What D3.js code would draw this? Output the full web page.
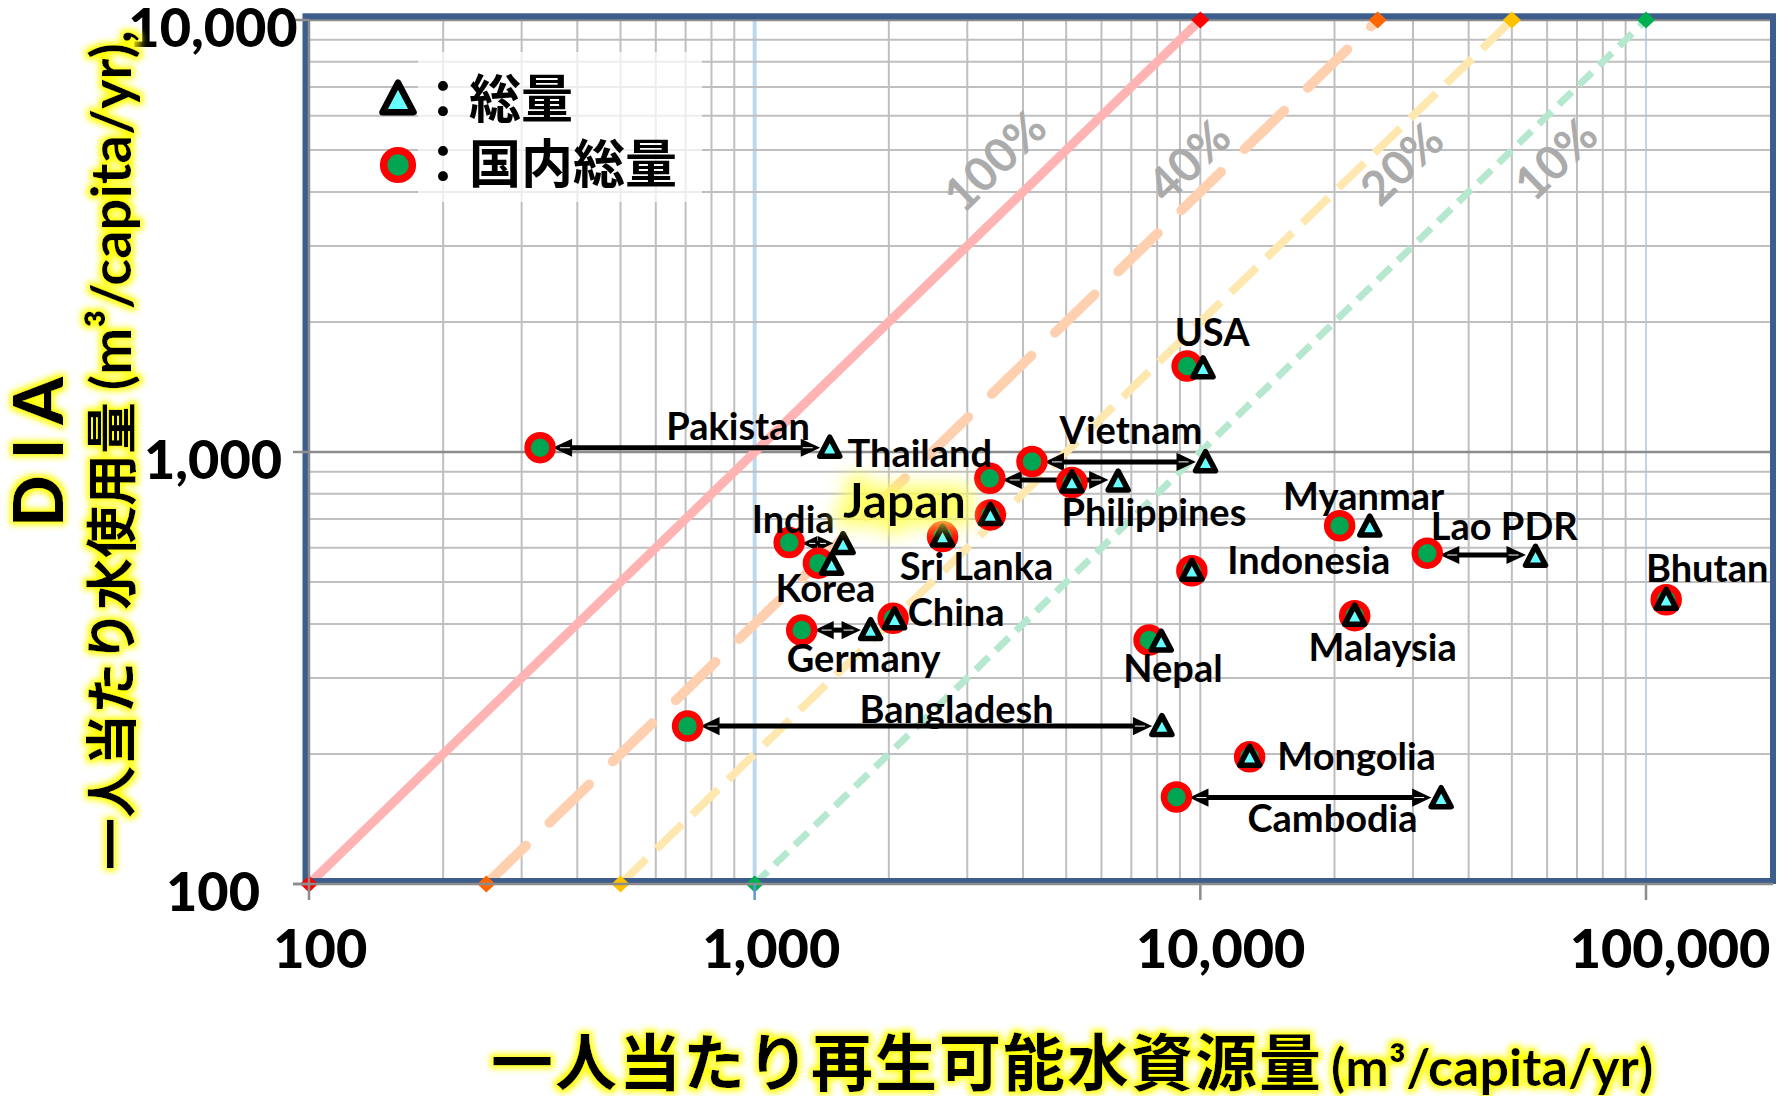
<!DOCTYPE html>
<html>
<head>
<meta charset="utf-8">
<script src="https://cdn.jsdelivr.net/npm/d3@7"></script>
<style>
  html, body { margin: 0; padding: 0; background: #ffffff; }
  svg { display: block; }
  .lat { font-family: "Lato", "Noto Sans CJK JP", sans-serif; font-weight: 700; }
  .heavy { font-family: "Lato", sans-serif; font-weight: 900; }
  .cjk { font-family: "Noto Sans CJK JP", "Lato", sans-serif; font-weight: 700; }
</style>
</head>
<body>
<svg id="chart" width="1792" height="1096"></svg>
<script>
// ---- data: per-capita renewable water resources (x) and water use (y), m3/capita/yr ----
const countries = ["Pakistan", "India", "Korea", "Germany", "Bangladesh", "Japan", "Sri Lanka",
  "China", "Thailand", "Philippines", "Vietnam", "USA", "Indonesia", "Nepal", "Cambodia",
  "Mongolia", "Malaysia", "Myanmar", "Lao PDR", "Bhutan"];
// 国内総量 (internal resources only)
const domesticResource = [330, 1195, 1390, 1275, 707, 3380, 2640, 2045, 3370, 5150, 4190,
  9340, 9570, 7670, 8840, 12900, 22200, 20540, 32300, 111000];
const domesticUse = [1023, 617, 553, 387, 232, 715, 637, 412, 869, 850, 950,
  1581, 531, 367, 159, 197, 418, 675, 583, 455];
// 総量 (total resources incl. inflow)
const totalResource = [1474, 1579, 1488, 1820, 8200, 3380, 2640, 2060, 6540, 5150, 10270,
  10140, 9570, 8170, 34700, 12900, 22200, 24000, 56500, 111000];
const totalUse = [1023, 612, 548, 387, 232, 715, 637, 410, 854, 850, 947,
  1562, 531, 364, 158, 197, 418, 672, 572, 455];
// countries whose two points are joined by a double arrow
const arrowCountries = ["Pakistan", "India", "Germany", "Bangladesh", "Thailand", "Vietnam",
  "Cambodia", "Lao PDR"];
// use / resource ratio guide lines
const ratios = [1, 0.4, 0.2, 0.1];
const ratioLabels = ["100%", "40%", "20%", "10%"];
const xTickValues = [100, 1000, 10000, 100000];
const yTickValues = [100, 1000, 10000];

// ---- layout ----
const plot = { left: 309, right: 1773, top: 20, bottom: 884 };
const x = d3.scaleLog().domain([100, 100000]).range([309, 1646]);
const y = d3.scaleLog().domain([100, 10000]).range([884, 20]);

// label placement relative to the 国内総量 marker: [dx of text centre, dy of baseline]
const labelOffset = {
  "Pakistan": [198, -8], "India": [4, -10], "Korea": [7, 39], "Germany": [62, 42],
  "Bangladesh": [269, -3], "Japan": [-86, 3], "Sri Lanka": [34, 43], "China": [63, 8],
  "Thailand": [-70, -11], "Philippines": [82, 44], "Vietnam": [99, -18], "USA": [25, -20],
  "Indonesia": [117, 3], "Nepal": [24, 42], "Cambodia": [156, 35], "Mongolia": [107, 13],
  "Malaysia": [28, 45], "Myanmar": [24, -16], "Lao PDR": [77, -13], "Bhutan": [41, -18]
};
const ratioStyle = [
  { color: "#ffb3b3", mark: "#ff0000", width: 9, dash: null, cap: "butt" },
  { color: "#ffd0b0", mark: "#ff6600", width: 10, dash: "55,33", cap: "round" },
  { color: "#ffe8b0", mark: "#ffc000", width: 8, dash: "36,14", cap: "butt" },
  { color: "#b5e8cf", mark: "#00b050", width: 7, dash: "18,10", cap: "butt" }
];
const ratioLabelPos = [[994, 160], [1188, 160], [1401, 163], [1555, 158]];

const svg = d3.select("#chart");
const defs = svg.append("defs");

function glowFilter(id, dilate, blur, color, opacity) {
  const f = defs.append("filter").attr("id", id)
    .attr("x", "-30%").attr("y", "-30%").attr("width", "160%").attr("height", "160%");
  f.append("feMorphology").attr("in", "SourceAlpha").attr("operator", "dilate")
    .attr("radius", dilate).attr("result", "d");
  f.append("feGaussianBlur").attr("in", "d").attr("stdDeviation", blur).attr("result", "b");
  f.append("feFlood").attr("flood-color", color).attr("flood-opacity", opacity);
  f.append("feComposite").attr("in2", "b").attr("operator", "in").attr("result", "g");
  const m = f.append("feMerge");
  m.append("feMergeNode").attr("in", "g");
  m.append("feMergeNode").attr("in", "SourceGraphic");
}
glowFilter("glow", 2.5, 3, "#ffff00", 1);
glowFilter("glowBig", 8, 9, "#ffff55", 0.9);

defs.append("clipPath").attr("id", "plotClip").append("rect")
  .attr("x", plot.left).attr("y", plot.top)
  .attr("width", plot.right - plot.left).attr("height", plot.bottom - plot.top);

// ---- grid ----
const grid = svg.append("g");
const xMinor = d3.scaleLog().domain([100, 200000]).ticks().filter(v => x(v) < plot.right - 2);
const yMinor = d3.scaleLog().domain([100, 10000]).ticks();

grid.selectAll("line").data(xMinor).join("line")
  .attr("x1", d => x(d)).attr("x2", d => x(d))
  .attr("y1", plot.top).attr("y2", plot.bottom)
  .attr("stroke", d => d === 1000 ? "#bdd7ee" : (d === 100000 ? "#c3d3e8" : "#bfbfbf"))
  .attr("stroke-width", d => d === 1000 ? 4 : 2);

svg.append("g").selectAll("line").data(yMinor).join("line")
  .attr("x1", plot.left).attr("x2", plot.right)
  .attr("y1", d => y(d)).attr("y2", d => y(d))
  .attr("stroke", d => (d === 1000 || d === 10000) ? "#8c8c8c" : "#bfbfbf")
  .attr("stroke-width", d => (d === 1000 || d === 10000) ? 2.5 : 2);

// ---- ratio guide lines ----
const guides = svg.append("g").attr("clip-path", "url(#plotClip)");
ratios.forEach((r, i) => {
  const s = ratioStyle[i];
  guides.append("line")
    .attr("x1", x(100 / r)).attr("y1", y(100))
    .attr("x2", x(10000 / r)).attr("y2", y(10000))
    .attr("stroke", s.color).attr("stroke-width", s.width)
    .attr("stroke-linecap", s.cap)
    .attr("stroke-dasharray", s.dash);
});

ratioLabels.forEach((t, i) => {
  const [cx, cy] = ratioLabelPos[i];
  svg.append("text").attr("class", "lat")
    .attr("transform", `translate(${cx},${cy}) rotate(-44)`)
    .attr("text-anchor", "middle").attr("dominant-baseline", "central")
    .attr("font-size", 47).attr("fill", "#ababab").text(t);
});

// ---- legend backdrop ----
svg.append("rect").attr("x", 418).attr("y", 52).attr("width", 284).attr("height", 150)
  .attr("fill", "#ffffff").attr("opacity", 0.72);

// ---- frame and axes ----
svg.append("rect").attr("x", 305.5).attr("y", 16.3).attr("width", 1467.5).attr("height", 864.7)
  .attr("fill", "none").attr("stroke", "#3d5d8c").attr("stroke-width", 6);

// end markers of the guide lines
const diamond = (cx, cy) => `M${cx},${cy - 8.5}L${cx + 9},${cy}L${cx},${cy + 8.5}L${cx - 9},${cy}Z`;
ratios.forEach((r, i) => {
  const s = ratioStyle[i];
  [[100 / r, 100], [10000 / r, 10000]].forEach(([vx, vy]) => {
    svg.append("path").attr("d", diamond(x(vx), y(vy))).attr("fill", s.mark);
  });
});

const axes = svg.append("g");
axes.append("line").attr("x1", plot.left).attr("x2", plot.left)
  .attr("y1", plot.top).attr("y2", plot.bottom).attr("stroke", "#8c8c8c").attr("stroke-width", 2.5);
axes.append("line").attr("x1", plot.left - 16).attr("x2", plot.right)
  .attr("y1", plot.bottom).attr("y2", plot.bottom).attr("stroke", "#8c8c8c").attr("stroke-width", 2.5);
axes.selectAll("line.yt").data(yTickValues).join("line")
  .attr("x1", plot.left - 16).attr("x2", plot.left)
  .attr("y1", d => y(d)).attr("y2", d => y(d))
  .attr("stroke", "#8c8c8c").attr("stroke-width", 2.5);
axes.selectAll("line.xt").data(xTickValues).join("line")
  .attr("x1", d => x(d)).attr("x2", d => x(d))
  .attr("y1", plot.bottom).attr("y2", plot.bottom + 16)
  .attr("stroke", d => d === 1000 ? "#5b9bd5" : "#8c8c8c").attr("stroke-width", 2.5);

const fmt = d3.format(",");
axes.selectAll("text.yl").data(yTickValues).join("text").attr("class", "heavy")
  .attr("x", 213).attr("y", d => y(d) + 27)
  .attr("text-anchor", "middle").attr("font-size", 54).attr("fill", "#000")
  .text(d => fmt(d));

axes.selectAll("text.xl").data(xTickValues).join("text").attr("class", "heavy")
  .attr("y", 968).attr("font-size", 54).attr("fill", "#000")
  .text(d => fmt(d))
  .attr("x", function (d) { return x(d) - 0.38 * this.getComputedTextLength(); });

// ---- axis titles ----
svg.append("text").attr("class", "heavy")
  .attr("transform", "translate(63,452) rotate(-90)")
  .attr("text-anchor", "middle").attr("font-size", 68).attr("filter", "url(#glow)")
  .text("D I A");

const yTitle = svg.append("text").attr("class", "lat")
  .attr("transform", "translate(131,870) rotate(-90)")
  .attr("filter", "url(#glow)");
yTitle.append("tspan").attr("class", "cjk").attr("font-size", 52).text("一人当たり水使用量 ");
yTitle.append("tspan").attr("font-size", 56).text("(m³/capita/yr),");

const xTitle = svg.append("text").attr("x", 491).attr("y", 1086).attr("filter", "url(#glow)");
xTitle.append("tspan").attr("class", "cjk").attr("font-size", 62).attr("letter-spacing", 2)
  .text("一人当たり再生可能水資源量");
xTitle.append("tspan").attr("class", "lat").attr("font-size", 52).attr("dx", 8)
  .text("(m³/capita/yr)");

// ---- markers ----
const triPath = s => `M0,${-10.5 * s}L${10 * s},${8.5 * s}L${-10 * s},${8.5 * s}Z`;
function drawTriangle(g, cx, cy, s) {
  g.append("path").attr("d", triPath(s)).attr("transform", `translate(${cx},${cy})`)
    .attr("fill", "#66ffff").attr("stroke", "#000").attr("stroke-width", 5.5 * Math.min(s, 1.2))
    .attr("stroke-linejoin", "round");
}
function drawCircle(g, cx, cy, s) {
  g.append("circle").attr("cx", cx).attr("cy", cy).attr("r", 12.5 * s)
    .attr("fill", "#00a651").attr("stroke", "#ff0000").attr("stroke-width", 6.5 * s);
}

const rows = countries.map((c, i) => ({
  name: c,
  dx: x(domesticResource[i]), dy: y(domesticUse[i]),
  tx: x(totalResource[i]), ty: y(totalUse[i])
}));

// double arrows between the two estimates
const arrowG = svg.append("g");
rows.filter(r => arrowCountries.includes(r.name)).forEach(r => {
  const ay = (r.dy + r.ty) / 2;
  const x1 = r.dx + 15, x2 = r.tx - 12;
  const hl = Math.min(16, (x2 - x1) / 2.2), hw = 7.5 * hl / 16;
  arrowG.append("line").attr("x1", x1 + hl - 1).attr("x2", x2 - hl + 1)
    .attr("y1", ay).attr("y2", ay).attr("stroke", "#000").attr("stroke-width", 5);
  [[x1, 1], [x2, -1]].forEach(([tip, dir]) => {
    arrowG.append("path")
      .attr("d", `M${tip},${ay}L${tip + dir * hl},${ay - hw}L${tip + dir * hl},${ay + hw}Z`)
      .attr("fill", "#000").attr("stroke", "#000").attr("stroke-width", 2)
      .attr("stroke-linejoin", "miter");
    arrowG.append("line")
      .attr("x1", tip + dir * 5).attr("x2", tip + dir * (hl - 1))
      .attr("y1", ay).attr("y2", ay).attr("stroke", "#ffffff").attr("stroke-width", 1);
  });
});

const markG = svg.append("g");
rows.forEach(r => drawCircle(markG, r.dx, r.dy, 1));
rows.forEach(r => drawTriangle(markG, r.tx, r.ty, 1));

// ---- country labels ----
const labG = svg.append("g");
rows.forEach(r => {
  const [ox, oy] = labelOffset[r.name];
  const big = r.name === "Japan";
  labG.append("text").attr("class", "lat")
    .attr("x", r.dx + ox).attr("y", r.dy + oy)
    .attr("text-anchor", "middle")
    .attr("font-size", big ? 48 : 38)
    .attr("filter", big ? "url(#glowBig)" : null)
    .attr("fill", "#000").text(r.name);
});

// ---- legend ----
const leg = svg.append("g");
drawTriangle(leg, 398, 99, 1.55);
drawCircle(leg, 398, 165, 1.15);
leg.append("text").attr("class", "cjk").attr("x", 417).attr("y", 118).attr("font-size", 52)
  .text("：総量");
leg.append("text").attr("class", "cjk").attr("x", 417).attr("y", 183).attr("font-size", 52)
  .text("：国内総量");
</script>
</body>
</html>
